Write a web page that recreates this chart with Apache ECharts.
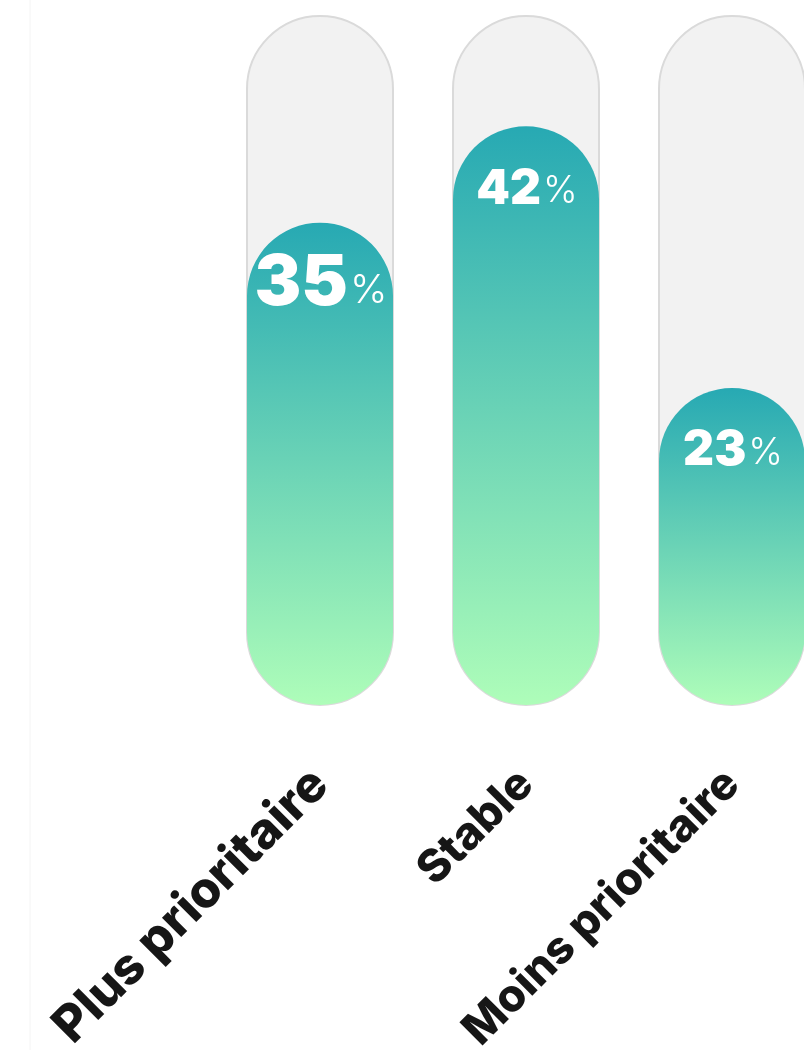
<!DOCTYPE html>
<html><head><meta charset="utf-8">
<script src="https://cdn.jsdelivr.net/npm/echarts@6/dist/echarts.min.js"></script>
<style>html,body{margin:0;padding:0;background:#fff}#c{width:804px;height:1050px}</style>
</head><body><div id="c"></div>
<script>
const categories = ['Plus prioritaire', 'Stable', 'Moins prioritaire'];
const values = [35, 42, 23];
const axisMax = 50;

const chart = echarts.init(document.getElementById('c'), null, {renderer: 'canvas'});
const data = values.map((v, i) => ({
  value: v,
  label: {
    rich: i === 0 ? {
      a: {fontSize: 70, fontWeight: 900, color: '#fff', fontFamily: 'Inter'},
      b: {fontSize: 40, fontWeight: 300, color: '#fff', fontFamily: 'Inter', padding: [14, 0, 0, 2]}
    } : {
      a: {fontSize: 48, fontWeight: 900, color: '#fff', fontFamily: 'Inter'},
      b: {fontSize: 37, fontWeight: 300, color: '#fff', fontFamily: 'Inter', padding: [4, 0, 0, 2]}
    },
    offset: i === 0 ? [1, 21] : [1, 34]
  }
}));
chart.setOption({
  animation: false,
  backgroundColor: '#fff',
  grid: {left: 217, top: 16, width: 618, height: 689, containLabel: false, outerBoundsMode: 'none'},
  xAxis: {
    type: 'category', data: categories,
    axisLine: {show: false}, axisTick: {show: false},
    axisLabel: {
      rotate: 45, margin: 72, color: '#161616', fontFamily: 'Inter', fontWeight: 800,
      interval: 0,
      formatter: (v, i) => i === 0 ? '{big|' + v + '}' : '{sm|' + v + '}',
      rich: {big: {fontSize: 50, fontWeight: 800, fontFamily: 'Inter', color: '#161616'},
             sm: {fontSize: 45, fontWeight: 800, fontFamily: 'Inter', color: '#161616'}}
    }
  },
  yAxis: {type: 'value', min: 0, max: axisMax, show: false},
  graphic: [{type: 'line', shape: {x1: 30, y1: 0, x2: 30, y2: 1050}, style: {stroke: '#f4f4f4', lineWidth: 1}}],
  series: [{
    type: 'bar', data: data, barWidth: 146,
    showBackground: true,
    backgroundStyle: {color: '#f2f2f2', borderColor: '#dadada', borderWidth: 2, borderRadius: 73},
    itemStyle: {
      borderRadius: 73,
      color: new echarts.graphic.LinearGradient(0, 0, 0, 1, [
        {offset: 0, color: '#27a9b3'},
        {offset: 1, color: '#aefdb9'}
      ])
    },
    label: {
      show: true, position: 'insideTop',
      formatter: p => '{a|' + p.value + '}{b|%}'
    }
  }]
});
</script></body></html>
